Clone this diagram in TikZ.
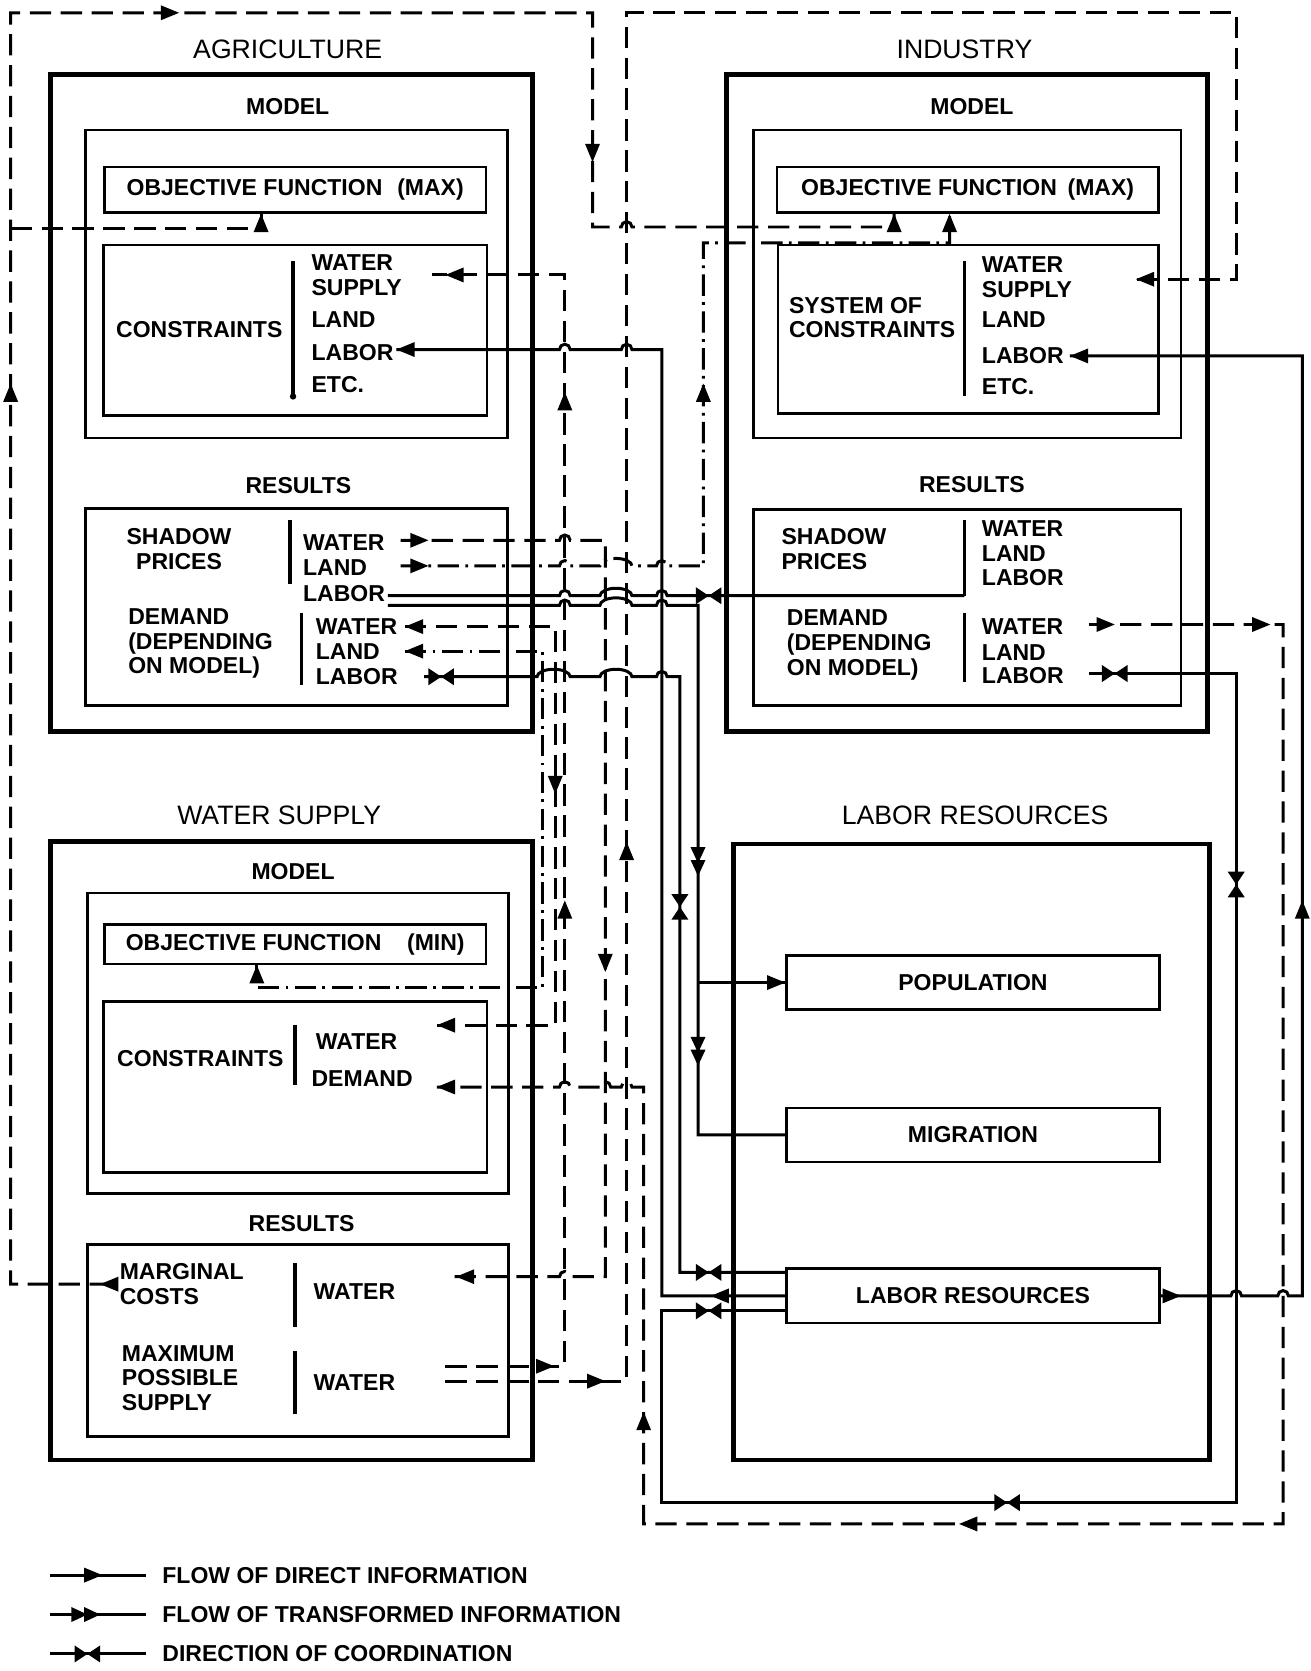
\documentclass[tikz,border=0pt]{standalone}
\usepackage{fontspec}
\setmainfont{Liberation Sans}
\usetikzlibrary{positioning}
\newcommand\lblfont{\fontsize{10.8}{11.6}\selectfont\bfseries}
\newcommand\ttlfont{\fontsize{12.5}{14}\selectfont}
% line hops (y axis points down)
\newcommand\hopR[2]{-- (#1-5,#2) arc[start angle=180,end angle=360,radius=5]}
\newcommand\hopL[2]{-- (#1+5,#2) arc[start angle=360,end angle=180,radius=5]}
\newcommand\hopW[3]{-- (#1-5,#3) arc[start angle=180,end angle=360,x radius={(#2-#1)/2+5},y radius=7]}
\tikzset{lbl/.style={font=\lblfont,inner sep=0pt,align=left}}
\tikzset{ttl/.style={font=\ttlfont,inner sep=0pt}}
\tikzset{outbox/.style={line width=2.3pt}}
\tikzset{inbox/.style={line width=1.2pt}}
\tikzset{bar/.style={line width=1.6pt}}
\tikzset{ofbox/.style={draw,line width=1.2pt,font=\lblfont,minimum width=179pt,minimum height=21.5pt,inner sep=0pt}}
\tikzset{lrbox/.style={draw,line width=1.2pt,font=\lblfont,minimum width=175pt,minimum height=25.5pt,inner sep=0pt}}
\tikzset{flow/.style={line width=1.4pt}}
\tikzset{dflow/.style={flow,dash pattern=on 10pt off 4.5pt}}
\tikzset{ddflow/.style={flow,dash pattern=on 10pt off 3pt on 1.3pt off 3pt}}
\tikzset{tipa/.pic={\fill (0,0) -- (-17,-7) -- (-17,7) -- cycle;}}
\tikzset{tipb/.pic={\fill (0,0) -- (-15,-7) -- (-15,7) -- cycle; \fill (-12,0) -- (-27,-7) -- (-27,7) -- cycle;}}
\tikzset{bowtie/.pic={\fill (0,0) -- (-12,-8) -- (-12,8) -- cycle; \fill (0,0) -- (12,-8) -- (12,8) -- cycle;}}

\begin{document}
\begin{tikzpicture}[x=0.5pt,y=-0.5pt]
\useasboundingbox (0,0) rectangle (1230,1568);

%% agriculture
\node[ttl] (agrT) at (270,46) {AGRICULTURE};
\draw[outbox] (47,70) rectangle (500,686);
\node[lbl] (agrM) at (270,100) {MODEL};
\draw[inbox] (80,122) rectangle (476,411);
\node[ofbox] (agrOF) at (277,178) {OBJECTIVE FUNCTION\hspace{7pt}(MAX)};
\draw[inbox] (97,230) rectangle (457,390);
\node[lbl] (agrC) at (187,309) {CONSTRAINTS};
\draw[bar] (275,245) -- (275,372);
\fill (275,372) circle (3);
\node[lbl,anchor=west] (agrCW) at (292,258) {WATER\\SUPPLY};
\node[lbl,anchor=west] (agrCL) at (292,300) {LAND};
\node[lbl,anchor=west] (agrCLab) at (292,331) {LABOR};
\node[lbl,anchor=west] (agrCE) at (292,361) {ETC.};
\node[lbl] (agrR) at (280,456) {RESULTS};
\draw[inbox] (80,477) rectangle (476,662);
\node[lbl,align=center] (agrSP) at (168,515) {SHADOW\\PRICES};
\draw[bar] (272,488) -- (272,548);
\node[lbl,anchor=west] (agrSPW) at (284,509) {WATER};
\node[lbl,anchor=west] (agrSPL) at (284,533) {LAND};
\node[lbl,anchor=west] (agrSPLab) at (284,557) {LABOR};
\node[lbl,anchor=west] (agrD) at (120,604) {DEMAND\\(DEPENDING\\ON MODEL)};
\draw[bar] (283,575) -- (283,643);
\node[lbl,anchor=west] (agrDW) at (296,588) {WATER};
\node[lbl,anchor=west] (agrDL) at (296,611) {LAND};
\node[lbl,anchor=west] (agrDLab) at (296,635) {LABOR};

%% industry
\node[ttl] (indT) at (905,46) {INDUSTRY};
\draw[outbox] (682,70) rectangle (1133,686);
\node[lbl] (indM) at (912,100) {MODEL};
\draw[inbox] (707,122) rectangle (1108,411);
\node[ofbox] (indOF) at (908,178) {OBJECTIVE FUNCTION\hspace{5pt}(MAX)};
\draw[inbox] (730,230) rectangle (1087,388);
\node[lbl,anchor=west] (indC) at (740,298) {SYSTEM OF\\CONSTRAINTS};
\draw[bar] (905,245) -- (905,372);
\node[lbl,anchor=west] (indCW) at (921,260) {WATER\\SUPPLY};
\node[lbl,anchor=west] (indCL) at (921,300) {LAND};
\node[lbl,anchor=west] (indCLab) at (921,334) {LABOR};
\node[lbl,anchor=west] (indCE) at (921,363) {ETC.};
\node[lbl] (indR) at (912,455) {RESULTS};
\draw[inbox] (707,478) rectangle (1108,662);
\node[lbl,anchor=west] (indSP) at (733,515) {SHADOW\\PRICES};
\draw[bar] (905,488) -- (905,559);
\node[lbl,anchor=west] (indSPW) at (921,496) {WATER};
\node[lbl,anchor=west] (indSPL) at (921,519) {LAND};
\node[lbl,anchor=west] (indSPLab) at (921,542) {LABOR};
\node[lbl,anchor=west] (indD) at (738,605) {DEMAND\\(DEPENDING\\ON MODEL)};
\draw[bar] (905,575) -- (905,640);
\node[lbl,anchor=west] (indDW) at (921,588) {WATER};
\node[lbl,anchor=west] (indDL) at (921,612) {LAND};
\node[lbl,anchor=west] (indDLab) at (921,634) {LABOR};

%% water supply
\node[ttl] (watT) at (262,765) {WATER SUPPLY};
\draw[outbox] (47,790) rectangle (500,1370);
\node[lbl] (watM) at (275,818) {MODEL};
\draw[inbox] (82,838) rectangle (477,1120);
\node[ofbox,minimum height=18.5pt] (watOF) at (277,886) {OBJECTIVE FUNCTION\hspace{12pt}(MIN)};
\draw[inbox] (97,940) rectangle (457,1100);
\node[lbl] (watC) at (188,993) {CONSTRAINTS};
\draw[bar] (277,962) -- (277,1018);
\node[lbl,anchor=west] (watCW) at (296,977) {WATER};
\node[lbl,anchor=west] (watCD) at (292,1012) {DEMAND};
\node[lbl] (watR) at (283,1148) {RESULTS};
\draw[inbox] (82,1168) rectangle (477,1348);
\node[lbl,anchor=west] (watMC) at (112,1205) {MARGINAL\\COSTS};
\draw[bar] (277,1185) -- (277,1245);
\node[lbl,anchor=west] (watMCW) at (294,1212) {WATER};
\node[lbl,anchor=west] (watMS) at (114,1293) {MAXIMUM\\POSSIBLE\\SUPPLY};
\draw[bar] (277,1268) -- (277,1327);
\node[lbl,anchor=west] (watMSW) at (294,1297) {WATER};

%% labor resources
\node[ttl] (labT) at (915,765) {LABOR RESOURCES};
\draw[outbox] (688,792) rectangle (1135,1370);
\node[lrbox] (pop) at (913,922) {POPULATION};
\node[lrbox] (mig) at (913,1065) {MIGRATION};
\node[lrbox] (lres) at (913,1216) {LABOR RESOURCES};

%% marginal costs -> objective functions
\draw[dflow] ([xshift=-4pt]watMC.west) -- (10,0 |- watMC.west) -- (10,12) -- (556,12) -- (556,213) \hopR{588}{213} -- (839,213) -- (839,0 |- indOF.south);
\draw[dflow] (10,214) -- (245,214) -- (245,0 |- agrOF.south);
\pic[rotate=180] at (94,1205) {tipa};
\pic[rotate=90] at (10,360) {tipa};
\pic at (168,12) {tipa};
\pic[rotate=-90] at (556,152) {tipa};
\pic[rotate=90] at (839,0 |- indOF.south) {tipa};
\pic[rotate=90] at (245,0 |- agrOF.south) {tipa};

%% maximum possible supply -> water supply constraints
\draw[dflow] (418,1282) -- (530,1282) -- (530,258) -- (405,258);
\pic at (520,1282) {tipa};
\pic[rotate=90] at (530,845) {tipa};
\pic[rotate=90] at (530,368) {tipa};
\pic[rotate=180] at (418,258) {tipa};
\draw[dflow] (418,1296) -- (588,1296) -- (588,12) -- (1160,12) -- (1160,262) -- (1058,262);
\pic at (568,1296) {tipa};
\pic[rotate=90] at (588,790) {tipa};
\pic[rotate=180] at (1066,262) {tipa};

%% shadow prices of agriculture
\draw[dflow] (376,507) \hopR{530}{507} -- (568,507) -- (568,1198) \hopL{530}{1198} -- (420,1198);
\pic at (402,507) {tipa};
\pic[rotate=-90] at (568,912) {tipa};
\pic[rotate=180] at (428,1198) {tipa};
\draw[ddflow] (376,531) \hopR{530}{531} \hopW{568}{588}{531} \hopR{621}{531} -- (660,531) -- (660,228) -- (891,228) -- (891,0 |- indOF.south);
\pic at (402,531) {tipa};
\pic[rotate=90] at (660,360) {tipa};
\pic[rotate=90] at (891,0 |- indOF.south) {tipa};
\draw[flow] (364,559) \hopR{530}{559} \hopW{568}{588}{559} \hopR{621}{559} -- (905,559);
\pic at (665,559) {bowtie};
\draw[flow] (364,568) \hopR{530}{568} \hopW{568}{588}{568} \hopR{621}{568} -- (655,568) -- (655,0 |- mig.west) -- (mig.west);
\draw[flow] (655,0 |- pop.west) -- (pop.west);
\pic at (pop.west) {tipa};
\pic[rotate=-90] at (655,822) {tipb};
\pic[rotate=-90] at (655,1000) {tipb};

%% demand of agriculture
\draw[dflow] (380,588) -- (521,588) -- (521,962) -- (410,962);
\pic[rotate=180] at (380,588) {tipa};
\pic[rotate=-90] at (521,745) {tipa};
\pic[rotate=180] at (410,962) {tipa};
\draw[ddflow] (380,611) -- (509,611) -- (509,927) -- (241,927) -- (241,0 |- watOF.south);
\pic[rotate=180] at (380,611) {tipa};
\pic[rotate=90] at (241,0 |- watOF.south) {tipa};
\draw[flow] (398,635) \hopW{509}{530}{635} \hopW{568}{588}{635} \hopR{621}{635} -- (638,635) -- (638,1194) -- ([yshift=11pt]lres.west);
\pic at (414,635) {bowtie};
\pic[rotate=90] at (638,851) {bowtie};
\pic at (665,1194) {bowtie};

%% labor resources -> constraints
\draw[flow] (lres.west) -- (621,0 |- lres.west) -- (621,328) \hopL{588}{328} \hopL{530}{328} -- (372,328);
\pic[rotate=180] at (667,1216) {tipa};
\pic[rotate=180] at (372,328) {tipa};
\draw[flow] (lres.east) \hopR{1160}{1216} \hopR{1204}{1216} -- (1222,1216) -- (1222,334) -- (1004,334);
\pic at (1108,1216) {tipa};
\pic[rotate=90] at (1222,845) {tipa};
\pic[rotate=180] at (1004,334) {tipa};

%% demand of industry
\draw[dflow] (1022,586) -- (1204,586) -- (1204,1430) -- (604,1430) -- (604,1020) \hopL{588}{1020} \hopL{568}{1020} \hopL{530}{1020} -- (410,1020);
\pic at (1046,586) {tipa};
\pic at (1192,586) {tipa};
\pic[rotate=180] at (900,1430) {tipa};
\pic[rotate=90] at (604,1325) {tipa};
\pic[rotate=180] at (410,1020) {tipa};
\draw[flow] (1022,632) -- (1160,632) -- (1160,1410) -- (621,1410) -- (621,1230) -- ([yshift=-7pt]lres.west);
\pic at (1046,632) {bowtie};
\pic[rotate=90] at (1160,830) {bowtie};
\pic at (945,1410) {bowtie};
\pic at (665,1230) {bowtie};

%% legend
\draw[flow] (47,1478) -- (137,1478);
\pic at (96,1478) {tipa};
\node[lbl,anchor=west] (legA) at (152,1478) {FLOW OF DIRECT INFORMATION};
\draw[flow] (47,1515) -- (137,1515);
\pic at (94,1515) {tipb};
\node[lbl,anchor=west] (legB) at (152,1515) {FLOW OF TRANSFORMED INFORMATION};
\draw[flow] (47,1552) -- (137,1552);
\pic at (82,1552) {bowtie};
\node[lbl,anchor=west] (legC) at (152,1552) {DIRECTION OF COORDINATION};
\end{tikzpicture}
\end{document}
